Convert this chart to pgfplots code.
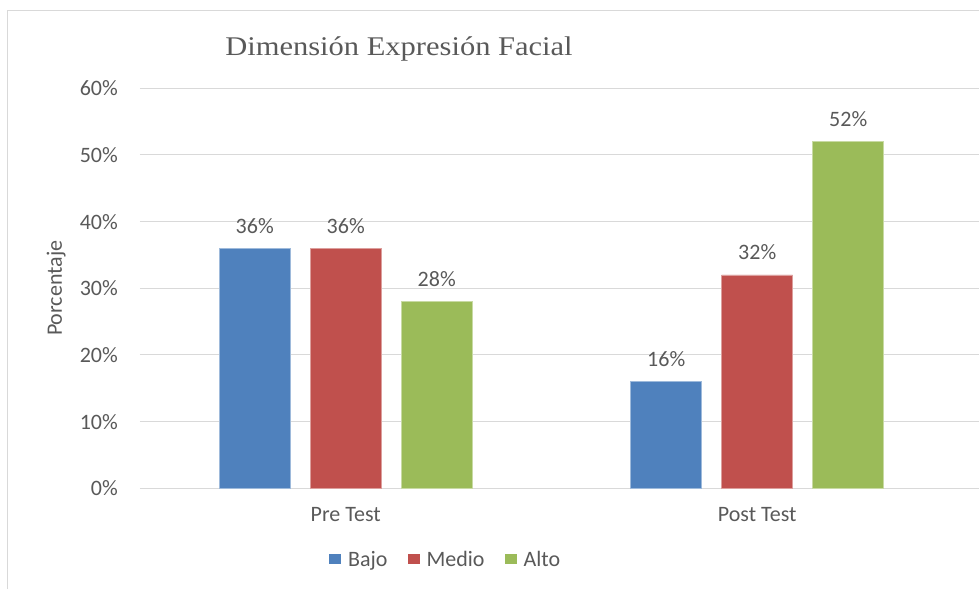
\documentclass[border=0pt]{standalone}
\usepackage{fontspec}
\setmainfont{Carlito}
\newfontfamily\titlefont{Liberation Serif}[FakeStretch=1.13]
\usepackage{pgfplots}
\pgfplotsset{compat=1.18}

\definecolor{bajo}{HTML}{4F81BD}
\definecolor{medio}{HTML}{C0504D}
\definecolor{alto}{HTML}{9BBB59}
\definecolor{txt}{HTML}{595959}
\definecolor{gridc}{HTML}{D9D9D9}

\begin{document}
\begin{tikzpicture}[font=\fontsize{22}{26}\selectfont]
% plot area south west corner sits at (0,0); image is 979 x 589 pt
\useasboundingbox (-140pt,-100.7pt) rectangle (839pt,488.3pt);
% chart frame (cropped on the right and bottom)
\draw[gridc, line width=1pt] (-132pt,-100.7pt) -- (-132pt,477.3pt) -- (839pt,477.3pt);
\node[font=\titlefont\fontsize{27}{32}\selectfont, text=txt, anchor=base, inner sep=0pt]
  at (259pt,432.6pt) {Dimensión Expresión Facial};

\begin{axis}[
    scale only axis, width=839pt, height=400pt,
    ybar=20pt, bar width=71pt,
    xmin=-0.5, xmax=1.539, ymin=0, ymax=60,
    xtick={0,1}, xticklabels={Pre Test, Post Test},
    ytick={0,10,...,60},
    yticklabel={\pgfmathprintnumber{\tick}\%},
    /pgf/number format/assume math mode=true,
    axis line style={draw=none},
    major tick length=0pt,
    ymajorgrids, grid style={gridc, line width=1pt},
    ticklabel style={text=txt, inner sep=0pt},
    yticklabel style={anchor=east, xshift=-22pt},
    xticklabel style={anchor=base, yshift=-33.4pt},
    ylabel={Porcentaje},
    ylabel style={at={(axis description cs:-0.0930,0.5)}, anchor=base, text=txt, inner sep=0pt},
    nodes near coords={\pgfmathprintnumber{\pgfplotspointmeta}\%},
    every node near coord/.append style={text=txt, anchor=base, inner sep=0pt, yshift=15pt},
    legend style={at={(axis description cs:0.2253,-0.179)}, anchor=west,
        draw=none, fill=none, inner sep=0pt, legend columns=-1, column sep=0pt,
        /tikz/every odd column/.append style={column sep=7pt},
        /tikz/every even column/.append style={column sep=20pt},
        nodes={inner sep=0pt, text=txt}},
    legend image code/.code={%
        \path[fill=none, draw=none] (0pt,-10pt) rectangle (12pt,10pt);
        \fill[#1, draw=none] (0pt,-4pt) rectangle (12pt,5.5pt);},
]
\addplot[fill=bajo, draw=bajo!55!white, line width=0.8pt] coordinates {(0,36) (1,16)};
\addplot[fill=medio, draw=medio!55!white, line width=0.8pt] coordinates {(0,36) (1,32)};
\addplot[fill=alto, draw=alto!55!white, line width=0.8pt] coordinates {(0,28) (1,52)};
\legend{Bajo, Medio, Alto}
\end{axis}
\end{tikzpicture}
\end{document}
